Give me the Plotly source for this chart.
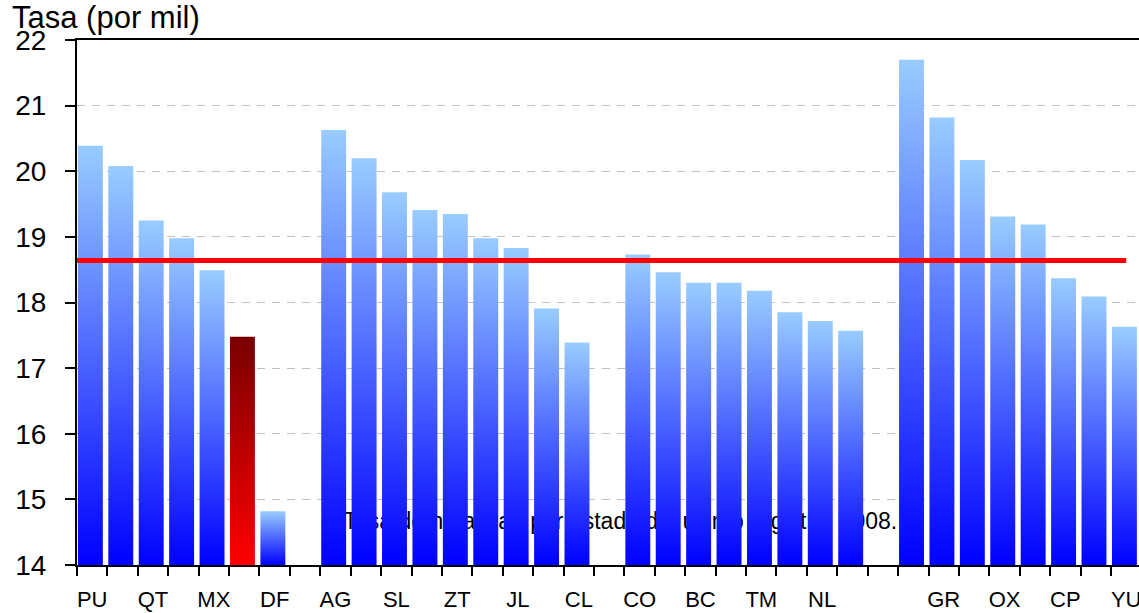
import plotly.graph_objects as go

# Tasa por estado (por mil); None = hueco entre grupos
etiquetas = ["PU", "", "QT", "", "MX", "", "DF", "",
             "AG", "", "SL", "", "ZT", "", "JL", "", "CL", "",
             "CO", "", "BC", "", "TM", "", "NL", "", "",
             "", "GR", "", "OX", "", "CP", "", "YU"]
tasas = [20.39, 20.08, 19.25, 18.98, 18.49, 17.48, 14.82, None,
         20.63, 20.20, 19.68, 19.41, 19.35, 18.98, 18.83, 17.91, 17.39, None,
         18.73, 18.46, 18.30, 18.30, 18.18, 17.85, 17.72, 17.57, None,
         21.70, 20.82, 20.17, 19.31, 19.19, 18.37, 18.09, 17.63]
destacado = 5
promedio = 18.64
nota = "Tasa de natalidad por estado del último registro, 2008."

y_min, y_max = 14, 22
ancho = 0.82
desfase = 0.03
fuente = "Arial, Liberation Sans, sans-serif"

fig = go.Figure()

# the note goes first so the bars cover it
fig.add_trace(go.Scatter(
    x=[26.47], y=[14.63], mode="text", text=[nota],
    textposition="middle left",
    textfont=dict(size=23, color="black", family=fuente),
    hoverinfo="skip", showlegend=False
))

for i, v in enumerate(tasas):
    if v is None:
        continue
    x0 = i - 0.5 + desfase
    x1 = x0 + ancho
    if i == destacado:
        escala = [[0, "#ff0000"], [1, "#780000"]]
    else:
        escala = [[0, "#0000ff"], [1, "#99ccff"]]
    fig.add_trace(go.Scatter(
        x=[x0, x1, x1, x0, x0],
        y=[y_min, y_min, v, v, y_min],
        mode="none", fill="toself",
        fillgradient=dict(type="vertical", colorscale=escala, start=y_min, stop=v),
        hoveron="fills", name=f"{etiquetas[i] or i}: {v}",
        showlegend=False
    ))

# national average line
fig.add_trace(go.Scatter(
    x=[-0.5, len(tasas) - 1], y=[promedio, promedio],
    mode="lines", line=dict(color="#ff0000", width=5),
    hoverinfo="skip", showlegend=False
))

fig.update_layout(
    width=1139, height=613,
    margin=dict(l=77, r=0, t=40, b=48),
    plot_bgcolor="white", paper_bgcolor="white",
    font=dict(family=fuente, color="black"),
    xaxis=dict(
        range=[-0.5, 34.42],
        automargin=False,
        tickmode="array",
        tickvals=[i for i, e in enumerate(etiquetas) if e],
        ticktext=[e for e in etiquetas if e],
        ticks="", showgrid=False, zeroline=False,
        showline=True, linecolor="black", linewidth=2, mirror=True,
        tickfont=dict(size=22),
        ticklabelstandoff=14,
        ticklabeloverflow="allow",
        minor=dict(
            tickmode="array",
            tickvals=[i - 0.5 for i in range(len(etiquetas) + 1)],
            ticks="outside", ticklen=9, tickwidth=1.5, tickcolor="black",
            showgrid=False
        ),
    ),
    yaxis=dict(
        range=[y_min, y_max], dtick=1,
        automargin=False,
        ticks="outside", ticklen=10, tickwidth=1.5, tickcolor="black",
        showline=True, linecolor="black", linewidth=2,
        showgrid=True, gridcolor="#c0c0c0", griddash="8px,7px", gridwidth=1,
        zeroline=False,
        tickfont=dict(size=28),
        ticklabelstandoff=13,
    ),
    annotations=[dict(
        text="Tasa (por mil)", xref="paper", yref="paper",
        x=0, y=1, xanchor="left", yanchor="bottom",
        xshift=-67, yshift=3, showarrow=False,
        font=dict(size=31)
    )],
)

# page body has a default 8px margin; drop it so the figure fills the window
fig.write_html("out.html", config={"displayModeBar": False},
               post_script="document.body.style.margin='0';")
